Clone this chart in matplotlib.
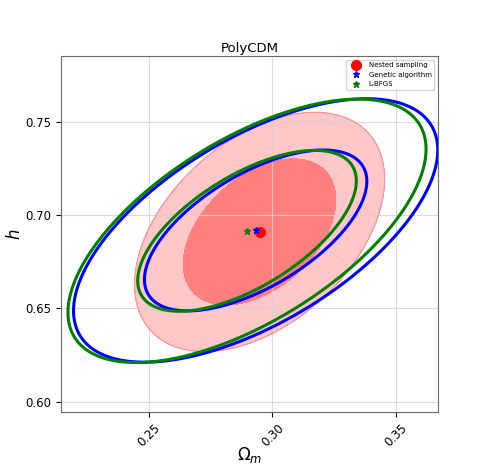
import numpy as np
import matplotlib
matplotlib.use("Agg")
import matplotlib.pyplot as plt

# best fits and covariances (Omega_m, h)
ns_mean = [0.2948, 0.6910]
ns_sigma = [0.0204, 0.0258]
ns_rho = 0.44

ga_mean = [0.2932, 0.6918]
ga_sigma = [0.0297, 0.0284]
ga_rho = 0.61

lbfgs_mean = [0.2897, 0.6916]
lbfgs_sigma = [0.0292, 0.0284]
lbfgs_rho = 0.62

# delta chi^2 for 68% and 95% in 2D
levels = [2.30, 6.17]


def chi2_grid(mean, sigma, rho, X, Y):
    dx = (X - mean[0]) / sigma[0]
    dy = (Y - mean[1]) / sigma[1]
    return (dx**2 - 2 * rho * dx * dy + dy**2) / (1 - rho**2)


x = np.linspace(0.20, 0.38, 600)
y = np.linspace(0.58, 0.80, 600)
X, Y = np.meshgrid(x, y)

fig, ax = plt.subplots(figsize=(4.87, 4.71), dpi=100)
fig.subplots_adjust(left=0.125, right=0.899, top=0.881, bottom=0.125)

Z = chi2_grid(ns_mean, ns_sigma, ns_rho, X, Y)
ax.contourf(X, Y, Z, levels=[0, levels[1]], colors=["red"], alpha=0.22)
ax.contourf(X, Y, Z, levels=[0, levels[0]], colors=["red"], alpha=0.36)
ax.contour(X, Y, Z, levels=[levels[1]], colors=["red"], alpha=0.25, linewidths=1)

Z = chi2_grid(ga_mean, ga_sigma, ga_rho, X, Y)
ax.contour(X, Y, Z, levels=levels, colors="blue", linewidths=2.2)

Z = chi2_grid(lbfgs_mean, lbfgs_sigma, lbfgs_rho, X, Y)
ax.contour(X, Y, Z, levels=levels, colors="green", linewidths=2.2)

ax.plot(ns_mean[0], ns_mean[1], "o", color="red", markersize=7, label="Nested sampling")
ax.plot(ga_mean[0], ga_mean[1], "*", color="blue", markersize=5, label="Genetic algorithm")
ax.plot(lbfgs_mean[0], lbfgs_mean[1], "*", color="green", markersize=5, label="L-BFGS")

ax.set_xlim(0.2143, 0.367)
ax.set_ylim(0.5945, 0.7852)
ax.set_xticks([0.25, 0.30, 0.35])
ax.set_yticks([0.60, 0.65, 0.70, 0.75])
ax.tick_params(axis="both", labelsize=8.5)
plt.setp(ax.get_xticklabels(), rotation=45)
ax.set_xlabel(r"$\Omega_m$", fontsize=12, labelpad=-3)
ax.set_ylabel(r"$h$", fontsize=12, labelpad=1)
ax.set_title("PolyCDM", fontsize=9.5, pad=3)
ax.grid(True, color="lightgray", alpha=0.8)
for s in ax.spines.values():
    s.set_color("dimgray")
ax.legend(loc="upper right", fontsize=5)

plt.savefig("out.png", dpi=100)
